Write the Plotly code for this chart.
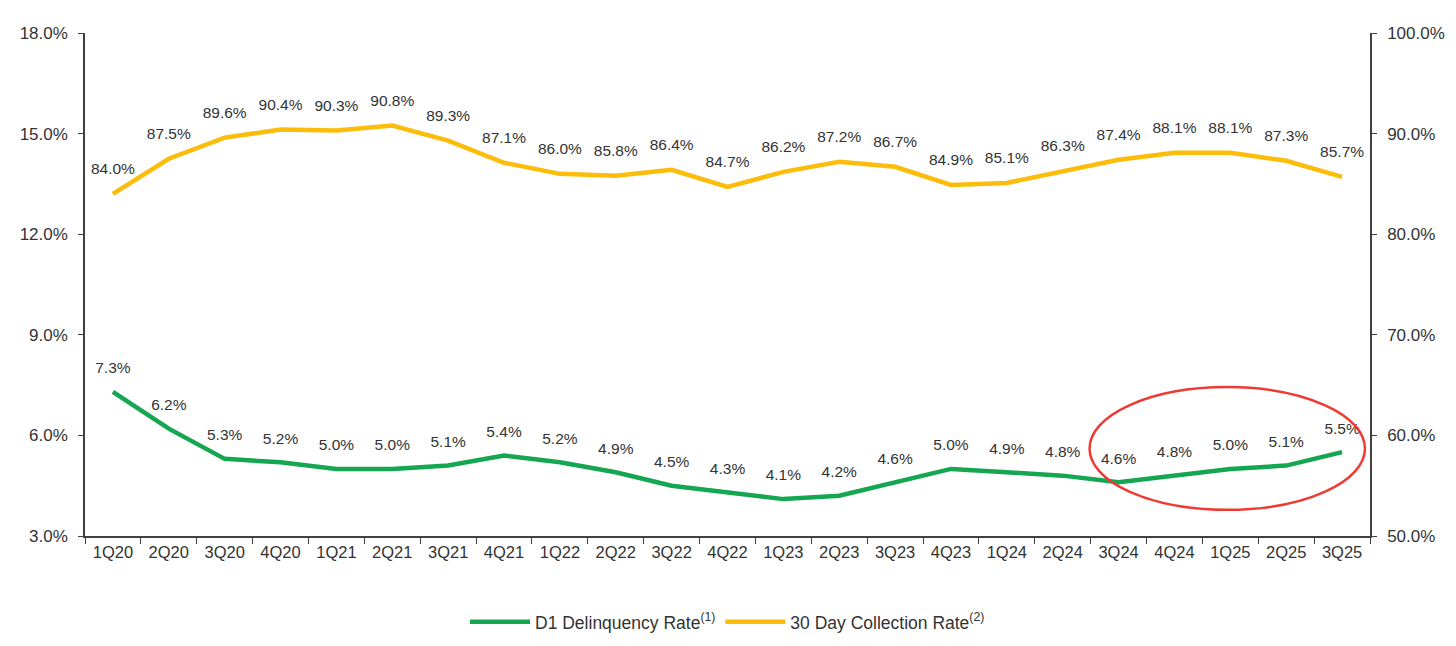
import plotly.graph_objects as go

quarters = ["1Q20","2Q20","3Q20","4Q20","1Q21","2Q21","3Q21","4Q21","1Q22","2Q22","3Q22","4Q22",
            "1Q23","2Q23","3Q23","4Q23","1Q24","2Q24","3Q24","4Q24","1Q25","2Q25","3Q25"]
d1_rate = [7.3,6.2,5.3,5.2,5.0,5.0,5.1,5.4,5.2,4.9,4.5,4.3,4.1,4.2,4.6,5.0,4.9,4.8,4.6,4.8,5.0,5.1,5.5]
collection_rate = [84.0,87.5,89.6,90.4,90.3,90.8,89.3,87.1,86.0,85.8,86.4,84.7,86.2,87.2,86.7,84.9,
                   85.1,86.3,87.4,88.1,88.1,87.3,85.7]
left_ticks = [3,6,9,12,15,18]
right_ticks = [50,60,70,80,90,100]

GREEN = "#14a651"
YELLOW = "#fbbc0a"
TXT = "#333333"
FONT = "Liberation Sans, Arial, sans-serif"

fig = go.Figure()
fig.add_trace(go.Scatter(
    x=quarters, y=d1_rate, mode="lines+markers+text", name="D1 Delinquency Rate<sup>(1)</sup>",
    line=dict(color=GREEN, width=4.5),
    marker=dict(size=22, color="rgba(0,0,0,0)"),
    text=[f"{v:.1f}%" for v in d1_rate], textposition="top center",
    textfont=dict(size=15.5, color=TXT, family=FONT), cliponaxis=False,
))
fig.add_trace(go.Scatter(
    x=quarters, y=collection_rate, mode="lines+markers+text", name="30 Day Collection Rate<sup>(2)</sup>",
    line=dict(color=YELLOW, width=4.5), yaxis="y2",
    marker=dict(size=24, color="rgba(0,0,0,0)"),
    text=[f"{v:.1f}%" for v in collection_rate], textposition="top center",
    textfont=dict(size=15.5, color=TXT, family=FONT), cliponaxis=False,
))

fig.add_shape(type="circle", xref="x", yref="y", x0=17.48, x1=22.41, y0=3.78, y1=7.44,
              line=dict(color="#ee3a32", width=2.5))

fig.update_layout(
    width=1456, height=646,
    margin=dict(l=75, r=94, t=25, b=118),
    paper_bgcolor="white", plot_bgcolor="white",
    font=dict(family=FONT, color=TXT, size=17),
    showlegend=True,
    legend=dict(orientation="h", x=0.5, xanchor="center", y=-0.135, yanchor="top",
                font=dict(size=17.5, color=TXT), itemwidth=60, tracegroupgap=0),
    xaxis=dict(type="category", range=[-0.5, 22.5], showgrid=False, showline=True,
               linecolor="#404040", linewidth=1.5, ticks="outside", tickson="boundaries",
               ticklen=6, tickcolor="#404040", tickfont=dict(size=16.5, color=TXT)),
    yaxis=dict(range=[3, 18], tickvals=left_ticks, ticktext=[f"{v:.1f}%" for v in left_ticks],
               showgrid=False, showline=True, linecolor="#404040", linewidth=1.5,
               ticks="outside", ticklen=5, tickcolor="#404040", zeroline=False,
               ticklabelstandoff=7, tickfont=dict(size=17, color=TXT)),
    yaxis2=dict(range=[50, 100], tickvals=right_ticks, ticktext=[f"{v:.1f}%" for v in right_ticks],
                overlaying="y", side="right", showgrid=False, showline=True,
                linecolor="#404040", linewidth=1.5, ticks="outside", ticklen=5,
                ticklabelstandoff=7,
                tickcolor="#404040", zeroline=False, tickfont=dict(size=17, color=TXT)),
)

fig.write_html("out.html")
